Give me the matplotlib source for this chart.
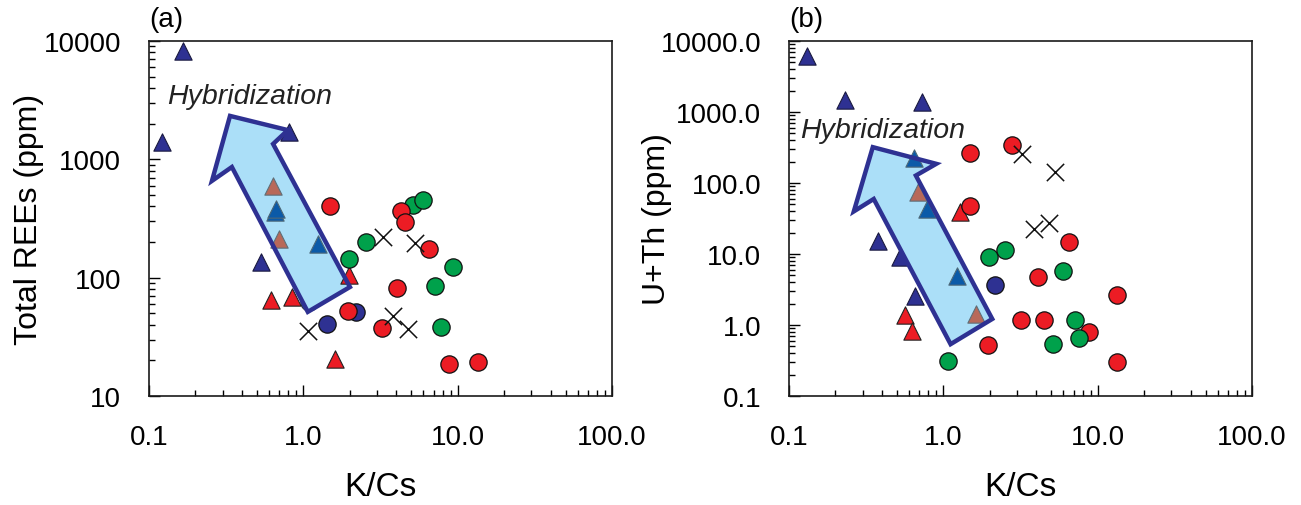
import numpy as np
import matplotlib
matplotlib.use("Agg")
import matplotlib.pyplot as plt
from matplotlib.patches import Polygon
from matplotlib.ticker import LogLocator, FixedLocator, FixedFormatter, NullFormatter

plt.rcParams['font.family'] = ['Liberation Sans', 'DejaVu Sans']

# colours of the sample groups
NAVY = '#2e3192'
BLUE = '#0b5aa8'
BROWN = '#b8695a'
RED = '#ec1c24'
GREEN = '#00a14b'

# ---- (a) K/Cs vs total REEs ----
a_navy_tri_x = [0.167, 0.121, 0.807, 0.530]
a_navy_tri_y = [8280, 1409, 1715, 135]
a_navy_cir_x = [1.42, 2.18]
a_navy_cir_y = [40.5, 50.9]
a_blue_cir_x = [1.09]
a_blue_cir_y = [61.9]
a_blue_tri_x = [0.655, 0.662, 1.24]
a_blue_tri_y = [360, 380, 193]
a_brown_tri_x = [0.638, 0.698]
a_brown_tri_y = [598, 212]
a_red_tri_x = [0.615, 0.848, 1.99, 1.60]
a_red_tri_y = [64.7, 69, 105, 20.5]
a_red_cir_x = [1.49, 4.28, 4.56, 6.52, 4.05, 1.95, 3.22, 8.79, 13.5]
a_red_cir_y = [401, 364, 294, 175, 82.3, 52.6, 37.3, 18.5, 19.3]
a_green_cir_x = [5.12, 5.99, 2.55, 1.97, 9.29, 7.10, 7.76]
a_green_cir_y = [414, 453, 199, 144, 124, 85.5, 38.1]
a_cross_x = [3.27, 5.30, 3.83, 4.79, 1.07]
a_cross_y = [219, 195, 47.7, 36.8, 35.7]

# ---- (b) K/Cs vs U+Th ----
b_navy_tri_x = [0.130, 0.230, 0.727, 0.377, 0.527, 0.652]
b_navy_tri_y = [6210, 1476, 1371, 15.4, 8.98, 2.59]
b_navy_cir_x = [2.15]
b_navy_cir_y = [3.66]
b_blue_tri_x = [0.646, 0.789, 1.22]
b_blue_tri_y = [223, 43, 4.94]
b_brown_tri_x = [0.686, 1.64]
b_brown_tri_y = [74, 1.43]
b_red_tri_x = [1.28, 0.562, 0.627]
b_red_tri_y = [38.6, 1.38, 0.832]
b_red_cir_x = [1.48, 2.80, 1.48, 6.49, 4.10, 13.4, 3.17, 4.49, 8.79, 1.96, 13.4]
b_red_cir_y = [262, 343, 47.0, 14.9, 4.70, 2.67, 1.19, 1.19, 0.805, 0.523, 0.304]
b_green_cir_x = [2.51, 1.97, 5.96, 7.10, 7.57, 5.14, 1.07]
b_green_cir_y = [11.4, 9.16, 5.82, 1.19, 0.656, 0.540, 0.314]
b_cross_x = [3.21, 5.32, 3.85, 4.82]
b_cross_y = [256, 144, 22.5, 27.0]

x_ticks = [0.1, 1, 10, 100]
x_labels = ['0.1', '1.0', '10.0', '100.0']
a_yticks = [10, 100, 1000, 10000]
a_ylabels = ['10', '100', '1000', '10000']
b_yticks = [0.1, 1, 10, 100, 1000, 10000]
b_ylabels = ['0.1', '1.0', '10.0', '100.0', '1000.0', '10000.0']

# arrow outline, axes fraction
a_arrow = [(0.175, 0.789), (0.300, 0.749), (0.268, 0.710), (0.434, 0.307),
           (0.343, 0.237), (0.179, 0.645), (0.136, 0.606)]
b_arrow = [(0.181, 0.701), (0.318, 0.654), (0.274, 0.621), (0.439, 0.217),
           (0.349, 0.146), (0.183, 0.555), (0.140, 0.520)]

fig = plt.figure(figsize=(13.01, 5.06), dpi=100)
ax1 = fig.add_axes([149 / 1301, 109 / 506, 463 / 1301, 355 / 506])
ax2 = fig.add_axes([789 / 1301, 109 / 506, 463 / 1301, 355 / 506])

ms = 155
tri_kw = dict(marker='^', s=ms, linewidths=0.8, zorder=3)
cir_kw = dict(marker='o', s=ms, edgecolors='#111111', linewidths=0.9, zorder=3)
x_kw = dict(marker='x', s=ms, c='#111111', linewidths=1.1, zorder=3)


def setup(ax, yticks, ylabels, ylim, ylabel, ypad, tag, arrow, hyb_xy):
    ax.set_xscale('log')
    ax.set_yscale('log')
    ax.set_xlim(0.1, 100)
    ax.set_ylim(*ylim)
    ax.xaxis.set_major_locator(FixedLocator(x_ticks))
    ax.xaxis.set_major_formatter(FixedFormatter(x_labels))
    ax.yaxis.set_major_locator(FixedLocator(yticks))
    ax.yaxis.set_major_formatter(FixedFormatter(ylabels))
    ax.xaxis.set_minor_locator(LogLocator(base=10, subs=np.arange(2, 10)))
    ax.yaxis.set_minor_locator(LogLocator(base=10, subs=np.arange(2, 10)))
    ax.xaxis.set_minor_formatter(NullFormatter())
    ax.yaxis.set_minor_formatter(NullFormatter())
    ax.tick_params(which='both', direction='in', top=False, right=False, width=1.0)
    ax.tick_params(which='major', length=8, pad=20, labelsize=20)
    ax.tick_params(which='minor', length=4)
    for sp in ax.spines.values():
        sp.set_linewidth(1.2)
        sp.set_color('#1a1a1a')
    ax.set_xlabel('K/Cs', fontsize=24, labelpad=15)
    ax.set_ylabel(ylabel, fontsize=23, labelpad=ypad)
    ax.text(0.0, 1.062, tag, transform=ax.transAxes, fontsize=20, ha='left', va='center')
    # arrow: fill under the markers, outline over them
    ax.add_patch(Polygon(arrow, closed=True, transform=ax.transAxes,
                         facecolor='#abdff8', edgecolor='none', zorder=2))
    ax.add_patch(Polygon(arrow, closed=True, transform=ax.transAxes,
                         facecolor='none', edgecolor=NAVY, linewidth=3.2,
                         joinstyle='miter', zorder=4))
    ax.text(hyb_xy[0], hyb_xy[1], 'Hybridization', transform=ax.transAxes,
            fontsize=20.5, style='italic', color='#222222', ha='center', va='center')


setup(ax1, a_yticks, a_ylabels, (10, 10000), 'Total REEs (ppm)', 0,
      '(a)', a_arrow, (0.218, 0.845))
setup(ax2, b_yticks, b_ylabels, (0.1, 10000), 'U+Th (ppm)', -8,
      '(b)', b_arrow, (0.202, 0.749))

# panel (a)
ax1.scatter(a_blue_cir_x, a_blue_cir_y, marker='o', s=ms, c=BLUE,
            edgecolors='#333333', linewidths=0.8, zorder=1)
ax1.scatter(a_navy_tri_x, a_navy_tri_y, c=NAVY, edgecolors='#1a1a40', **tri_kw)
ax1.scatter(a_blue_tri_x, a_blue_tri_y, c=BLUE, edgecolors='#4d6878', **tri_kw)
ax1.scatter(a_brown_tri_x, a_brown_tri_y, c=BROWN, edgecolors='#5f6f78', **tri_kw)
ax1.scatter(a_red_tri_x, a_red_tri_y, c=RED, edgecolors='#222222', **tri_kw)
ax1.scatter(a_navy_cir_x, a_navy_cir_y, c=NAVY, **cir_kw)
ax1.scatter(a_green_cir_x, a_green_cir_y, c=GREEN, **cir_kw)
ax1.scatter(a_red_cir_x, a_red_cir_y, c=RED, **cir_kw)
ax1.scatter(a_cross_x, a_cross_y, **x_kw)

# panel (b)
ax2.scatter(b_navy_tri_x, b_navy_tri_y, c=NAVY, edgecolors='#1a1a40', **tri_kw)
ax2.scatter(b_blue_tri_x, b_blue_tri_y, c=BLUE, edgecolors='#4d6878', **tri_kw)
ax2.scatter(b_brown_tri_x, b_brown_tri_y, c=BROWN, edgecolors='#5f6f78', **tri_kw)
ax2.scatter(b_red_tri_x, b_red_tri_y, c=RED, edgecolors='#222222', **tri_kw)
ax2.scatter(b_navy_cir_x, b_navy_cir_y, c=NAVY, **cir_kw)
ax2.scatter(b_red_cir_x, b_red_cir_y, c=RED, **cir_kw)
ax2.scatter(b_green_cir_x, b_green_cir_y, c=GREEN, **cir_kw)
ax2.scatter(b_cross_x, b_cross_y, **x_kw)

fig.savefig('out.png', dpi=100)
